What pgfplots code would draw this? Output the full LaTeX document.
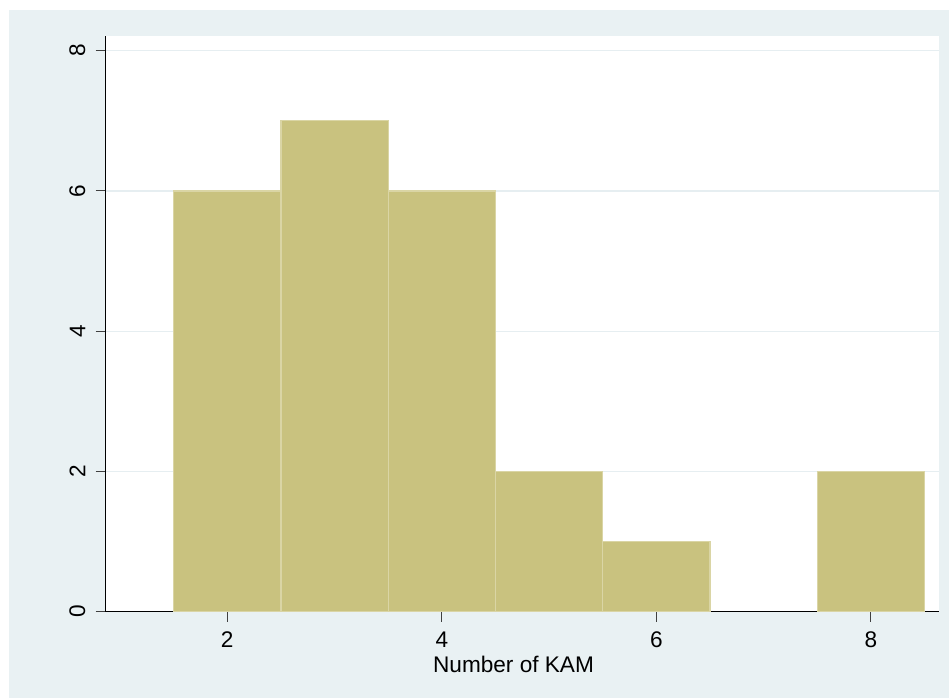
\documentclass[border=0pt]{standalone}
\usepackage{fontspec}
\setmainfont{Liberation Sans}
\usepackage{pgfplots}
\pgfplotsset{compat=1.18}

\definecolor{bgouter}{RGB}{233,241,243}
\definecolor{barfill}{RGB}{201,194,127}
\definecolor{baredge}{RGB}{218,213,165}
\definecolor{gridc}{RGB}{230,238,241}

\begin{document}
\fontsize{11.3}{13.5}\selectfont
\begin{tikzpicture}
  % canvas and graph region
  \path[fill=white] (0pt,0pt) rectangle (474.5pt,349pt);
  \path[fill=bgouter] (4.5pt,0pt) rectangle (474.5pt,344pt);
  \begin{axis}[
    at={(52.85pt,43.15pt)}, anchor=south west,
    scale only axis,
    width=416.65pt, height=287.85pt,
    xmin=0.867, xmax=8.634,
    ymin=0, ymax=8.21,
    axis background/.style={fill=white},
    axis x line*=bottom, axis y line*=left,
    axis line style={black, line width=0.6pt},
    xtick={2,4,6,8}, ytick={0,2,4,6,8},
    tick align=outside,
    major tick length=5pt,
    tick style={black!75, line width=0.5pt},
    ymajorgrids,
    grid style={gridc, line width=0.7pt},
    /pgf/number format/assume math mode=true,
    yticklabel style={font=\fontsize{11.3}{13.5}\selectfont, rotate=90, anchor=south, inner sep=0pt},
    yticklabel shift=5pt,
    xticklabel style={font=\fontsize{11.3}{13.5}\selectfont, rotate=0, anchor=north, inner sep=0pt},
    xticklabel shift=5pt,
    xlabel={Number of KAM},
    xlabel style={at={(axis description cs:0.4894,-0.106)}, anchor=base, inner sep=0pt,
                  font=\fontsize{11.3}{13.5}\selectfont},
  ]
    % frequency of each value of KAM, bins of width 1
    \addplot[ybar interval, fill=barfill, draw=baredge, line width=0.6pt]
      coordinates {(1.5,6) (2.5,7) (3.5,6) (4.5,2) (5.5,1) (6.5,1)};
    \addplot[ybar interval, fill=barfill, draw=baredge, line width=0.6pt]
      coordinates {(7.5,2) (8.5,2)};
  \end{axis}
  \pgfresetboundingbox
  \useasboundingbox (0pt,0pt) rectangle (474.5pt,349pt);
\end{tikzpicture}
\end{document}
